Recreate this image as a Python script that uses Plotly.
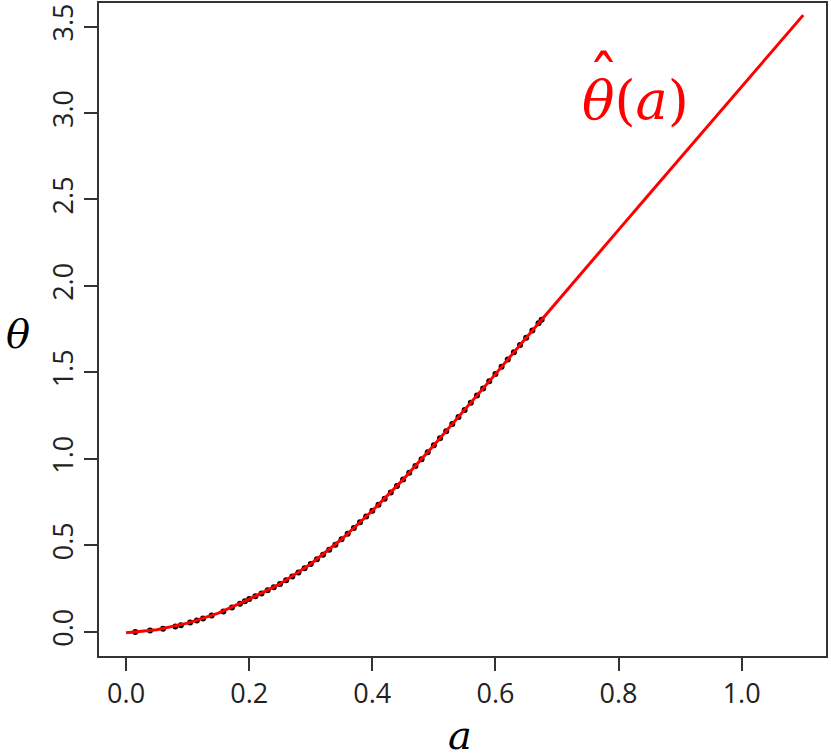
import plotly.graph_objects as go

# fitted curve theta_hat(a)
a_line = [0.00, 0.05, 0.10, 0.15, 0.20, 0.25, 0.30, 0.35, 0.40, 0.45, 0.50,
          0.55, 0.60, 0.65, 0.70, 0.75, 0.80, 0.85, 0.90, 0.95, 1.00, 1.05, 1.10]
theta_line = [-0.005, 0.012, 0.050, 0.108, 0.189, 0.277, 0.392, 0.535, 0.700,
              0.880, 1.078, 1.283, 1.490, 1.700, 1.910, 2.117, 2.324, 2.531,
              2.738, 2.945, 3.152, 3.359, 3.566]

# observed points (black dots)
a_pts = [0.015, 0.039, 0.060, 0.080, 0.089, 0.104, 0.115, 0.125, 0.139, 0.158,
         0.172, 0.185, 0.193, 0.20, 0.21, 0.22, 0.23, 0.24, 0.25, 0.26, 0.27,
         0.28, 0.29, 0.30, 0.31, 0.32, 0.33, 0.34, 0.35, 0.36, 0.37, 0.38, 0.39,
         0.40, 0.41, 0.42, 0.43, 0.44, 0.45, 0.46, 0.47, 0.48, 0.49, 0.50, 0.51,
         0.52, 0.53, 0.54, 0.55, 0.56, 0.57, 0.58, 0.59, 0.60, 0.61, 0.62, 0.63,
         0.64, 0.65, 0.66, 0.67, 0.675]
theta_pts = [-0.001, 0.007, 0.018, 0.031, 0.038, 0.054, 0.066, 0.077, 0.094,
             0.118, 0.141, 0.162, 0.176, 0.189, 0.205, 0.222, 0.240, 0.258,
             0.277, 0.298, 0.320, 0.343, 0.367, 0.392, 0.419, 0.446, 0.475,
             0.504, 0.535, 0.567, 0.600, 0.633, 0.666, 0.700, 0.735, 0.770,
             0.806, 0.843, 0.880, 0.919, 0.958, 0.998, 1.038, 1.078, 1.119,
             1.160, 1.201, 1.242, 1.283, 1.324, 1.366, 1.407, 1.449, 1.490,
             1.532, 1.574, 1.616, 1.658, 1.700, 1.742, 1.784, 1.805]

x_ticks = [0.0, 0.2, 0.4, 0.6, 0.8, 1.0]
y_ticks = [0.0, 0.5, 1.0, 1.5, 2.0, 2.5, 3.0, 3.5]

fig = go.Figure()
fig.add_trace(go.Scatter(
    x=a_pts, y=theta_pts, mode="markers",
    marker=dict(color="black", size=6),
))
fig.add_trace(go.Scatter(
    x=a_line, y=theta_line, mode="lines",
    line=dict(color="#ff0000", width=3),
))

tick_font = dict(family="Open Sans", size=27, color="#222222")
axis_common = dict(
    showline=True, linecolor="#333333", linewidth=2, mirror=True,
    showgrid=False, zeroline=False,
    ticks="outside", ticklen=13, tickwidth=2, tickcolor="#333333",
    tickfont=tick_font, fixedrange=True,
)
math_font = dict(family="DejaVu Serif", size=40, color="black")
label_font = dict(family="DejaVu Serif", size=54, color="#ff0000")

fig.update_layout(
    width=831, height=755,
    margin=dict(l=99, r=5, t=1, b=99),
    paper_bgcolor="white", plot_bgcolor="white",
    showlegend=False,
    xaxis=dict(range=[-0.044, 1.137], tickvals=x_ticks,
               ticktext=[f"{v:.1f}" for v in x_ticks], **axis_common),
    yaxis=dict(range=[-0.140, 3.636], tickvals=y_ticks,
               ticktext=[f"{v:.1f}" for v in y_ticks], tickangle=-90,
               **axis_common),
    annotations=[
        dict(text="<i>a</i>", xref="paper", yref="paper", x=0.497, y=-0.121,
             xanchor="center", yanchor="middle", showarrow=False, font=math_font),
        dict(text="<i>θ</i>", xref="paper", yref="paper", x=-0.111, y=0.493,
             xanchor="center", yanchor="middle", showarrow=False, font=math_font),
        dict(text="<i>θ</i>(<i>a</i>)", xref="x", yref="y", x=0.827, y=3.07,
             xanchor="center", yanchor="middle", showarrow=False, font=label_font),
        dict(text="ˆ", xref="x", yref="y", x=0.776, y=3.20,
             xanchor="center", yanchor="middle", showarrow=False,
             font=dict(family="DejaVu Serif", size=62, color="#ff0000")),
    ],
)

# drop the default page margin so the figure sits at the window corner
fig.write_html("out.html", config={"displayModeBar": False},
               post_script="document.body.style.margin='0';")
